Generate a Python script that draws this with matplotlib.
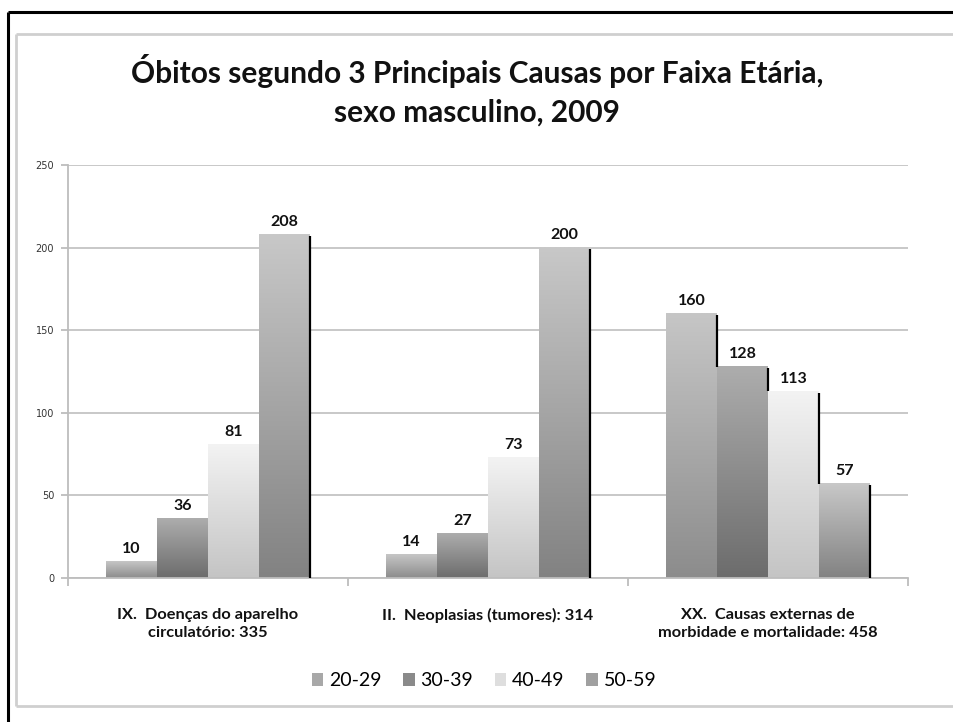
import matplotlib
matplotlib.use("Agg")
import matplotlib.pyplot as plt
import numpy as np
from matplotlib.patches import Patch
from matplotlib.lines import Line2D
from matplotlib.colors import LinearSegmentedColormap

categories = ["IX.  Doenças do aparelho\ncirculatório: 335",
              "II.  Neoplasias (tumores): 314",
              "XX.  Causas externas de\nmorbidade e mortalidade: 458"]
series_names = ["20-29", "30-39", "40-49", "50-59"]
v_20_29 = [10, 14, 160]
v_30_39 = [36, 27, 128]
v_40_49 = [81, 73, 113]
v_50_59 = [208, 200, 57]
series_values = [v_20_29, v_30_39, v_40_49, v_50_59]
title = "Óbitos segundo 3 Principais Causas por Faixa Etária,\nsexo masculino, 2009"
yticks = [0, 50, 100, 150, 200, 250]

grad = [("#c6c6c6", "#8c8c8c"), ("#adadad", "#6c6c6c"),
        ("#f3f3f3", "#c4c4c4"), ("#c8c8c8", "#828282")]
legend_col = ["#a8a8a8", "#8a8a8a", "#dedede", "#a0a0a0"]

FONT = ["Lato", "DejaVu Sans"]
plt.rcParams['font.family'] = FONT

fig = plt.figure(figsize=(9.54, 7.22), dpi=100)
W, H = 954, 722

def fx(px):
    return px / W

def fy(py):
    return 1 - py / H

# outer black frame (left and top only visible)
fig.add_artist(Line2D([fx(8), fx(8)], [fy(12), 0.0], color="black", lw=2.2,
                      transform=fig.transFigure, solid_capstyle="butt"))
fig.add_artist(Line2D([fx(8), fx(953)], [fy(12), fy(12)], color="black", lw=2.2,
                      transform=fig.transFigure, solid_capstyle="butt"))
# inner grey chart box (left, top, bottom visible)
fig.add_artist(Line2D([fx(16), fx(16)], [fy(34), fy(706)], color="#cfcfcf", lw=2,
                      transform=fig.transFigure, solid_capstyle="butt"))
fig.add_artist(Line2D([fx(16), fx(953)], [fy(34), fy(34)], color="#cfcfcf", lw=2,
                      transform=fig.transFigure, solid_capstyle="butt"))
fig.add_artist(Line2D([fx(16), fx(953)], [fy(706), fy(706)], color="#cfcfcf", lw=2,
                      transform=fig.transFigure, solid_capstyle="butt"))

ax = fig.add_axes([fx(68), fy(578), (908 - 68)/W, (578 - 165)/H])

x = np.arange(len(categories))
bw = 51/280
n = len(series_names)
for i, (name, vals) in enumerate(zip(series_names, series_values)):
    pos = x - bw*n/2 + bw*(i + 0.5)
    bars = ax.bar(pos, vals, width=bw, color="none", edgecolor="none", zorder=2)
    cmap = LinearSegmentedColormap.from_list("g%d" % i, [grad[i][1], grad[i][0]])
    for b, v in zip(bars, vals):
        x0 = b.get_x(); x1 = x0 + b.get_width()
        g = np.linspace(0, 1, 256).reshape(-1, 1)
        ax.imshow(g, cmap=cmap, aspect="auto", origin="lower",
                  extent=(x0, x1, 0, v), zorder=2, interpolation="bilinear")
        ax.annotate(str(v), (b.get_x() + b.get_width()/2, v), xytext=(0, 4),
                    textcoords="offset points", ha="center", va="bottom",
                    fontsize=11.5, fontweight="bold", color="#111111", zorder=5)

# dark shadow edges on the right side of bars
for j in range(len(categories)):
    for i in range(n):
        top = series_values[i][j]
        nxt = series_values[i+1][j] if i + 1 < n else 0
        if top > nxt:
            xr = x[j] - bw*n/2 + bw*(i + 1)
            ax.plot([xr, xr], [nxt, top - 1], color="black", lw=1.6, zorder=3,
                    solid_capstyle="butt")

ax.set_xlim(-0.5, 2.5)
ax.set_ylim(0, 250)
ax.set_yticks(yticks)
ax.set_yticklabels([str(t) for t in yticks], fontsize=7, color="#333333",
                   family=["DejaVu Sans"])
ax.yaxis.grid(True, color="#c4c4c4", linewidth=1.3, zorder=0)
ax.set_axisbelow(True)
for s in ["top", "right"]:
    ax.spines[s].set_visible(False)
ax.spines["left"].set_color("#bdbdbd")
ax.spines["bottom"].set_color("#bdbdbd")
ax.spines["left"].set_linewidth(1.3)
ax.spines["bottom"].set_linewidth(1.3)
ax.tick_params(axis="y", length=5, color="#bdbdbd", width=1.3, pad=5)
ax.set_xticks([-0.5, 0.5, 1.5, 2.5])
ax.set_xticklabels([])
ax.tick_params(axis="x", length=6, color="#bdbdbd", width=1.3)
for j, c in enumerate(categories):
    ax.text(x[j], -0.072, c, transform=ax.get_xaxis_transform(), ha="center", va="top",
            fontsize=11.8, fontweight="bold", color="#111111", linespacing=1.4)

fig.text(fx(477), fy(90), title, ha="center", va="center", fontsize=21.5,
         fontweight="bold", color="#111111", linespacing=1.45)

handles = [Patch(facecolor=c, edgecolor="none") for c in legend_col]
fig.legend(handles, series_names, loc="center", bbox_to_anchor=(fx(484), fy(681)),
           ncol=4, frameon=False, handlelength=0.6, handleheight=0.6,
           handletextpad=0.3, columnspacing=1.1,
           prop={"family": FONT, "size": 14})

fig.savefig("out.png", dpi=100)
